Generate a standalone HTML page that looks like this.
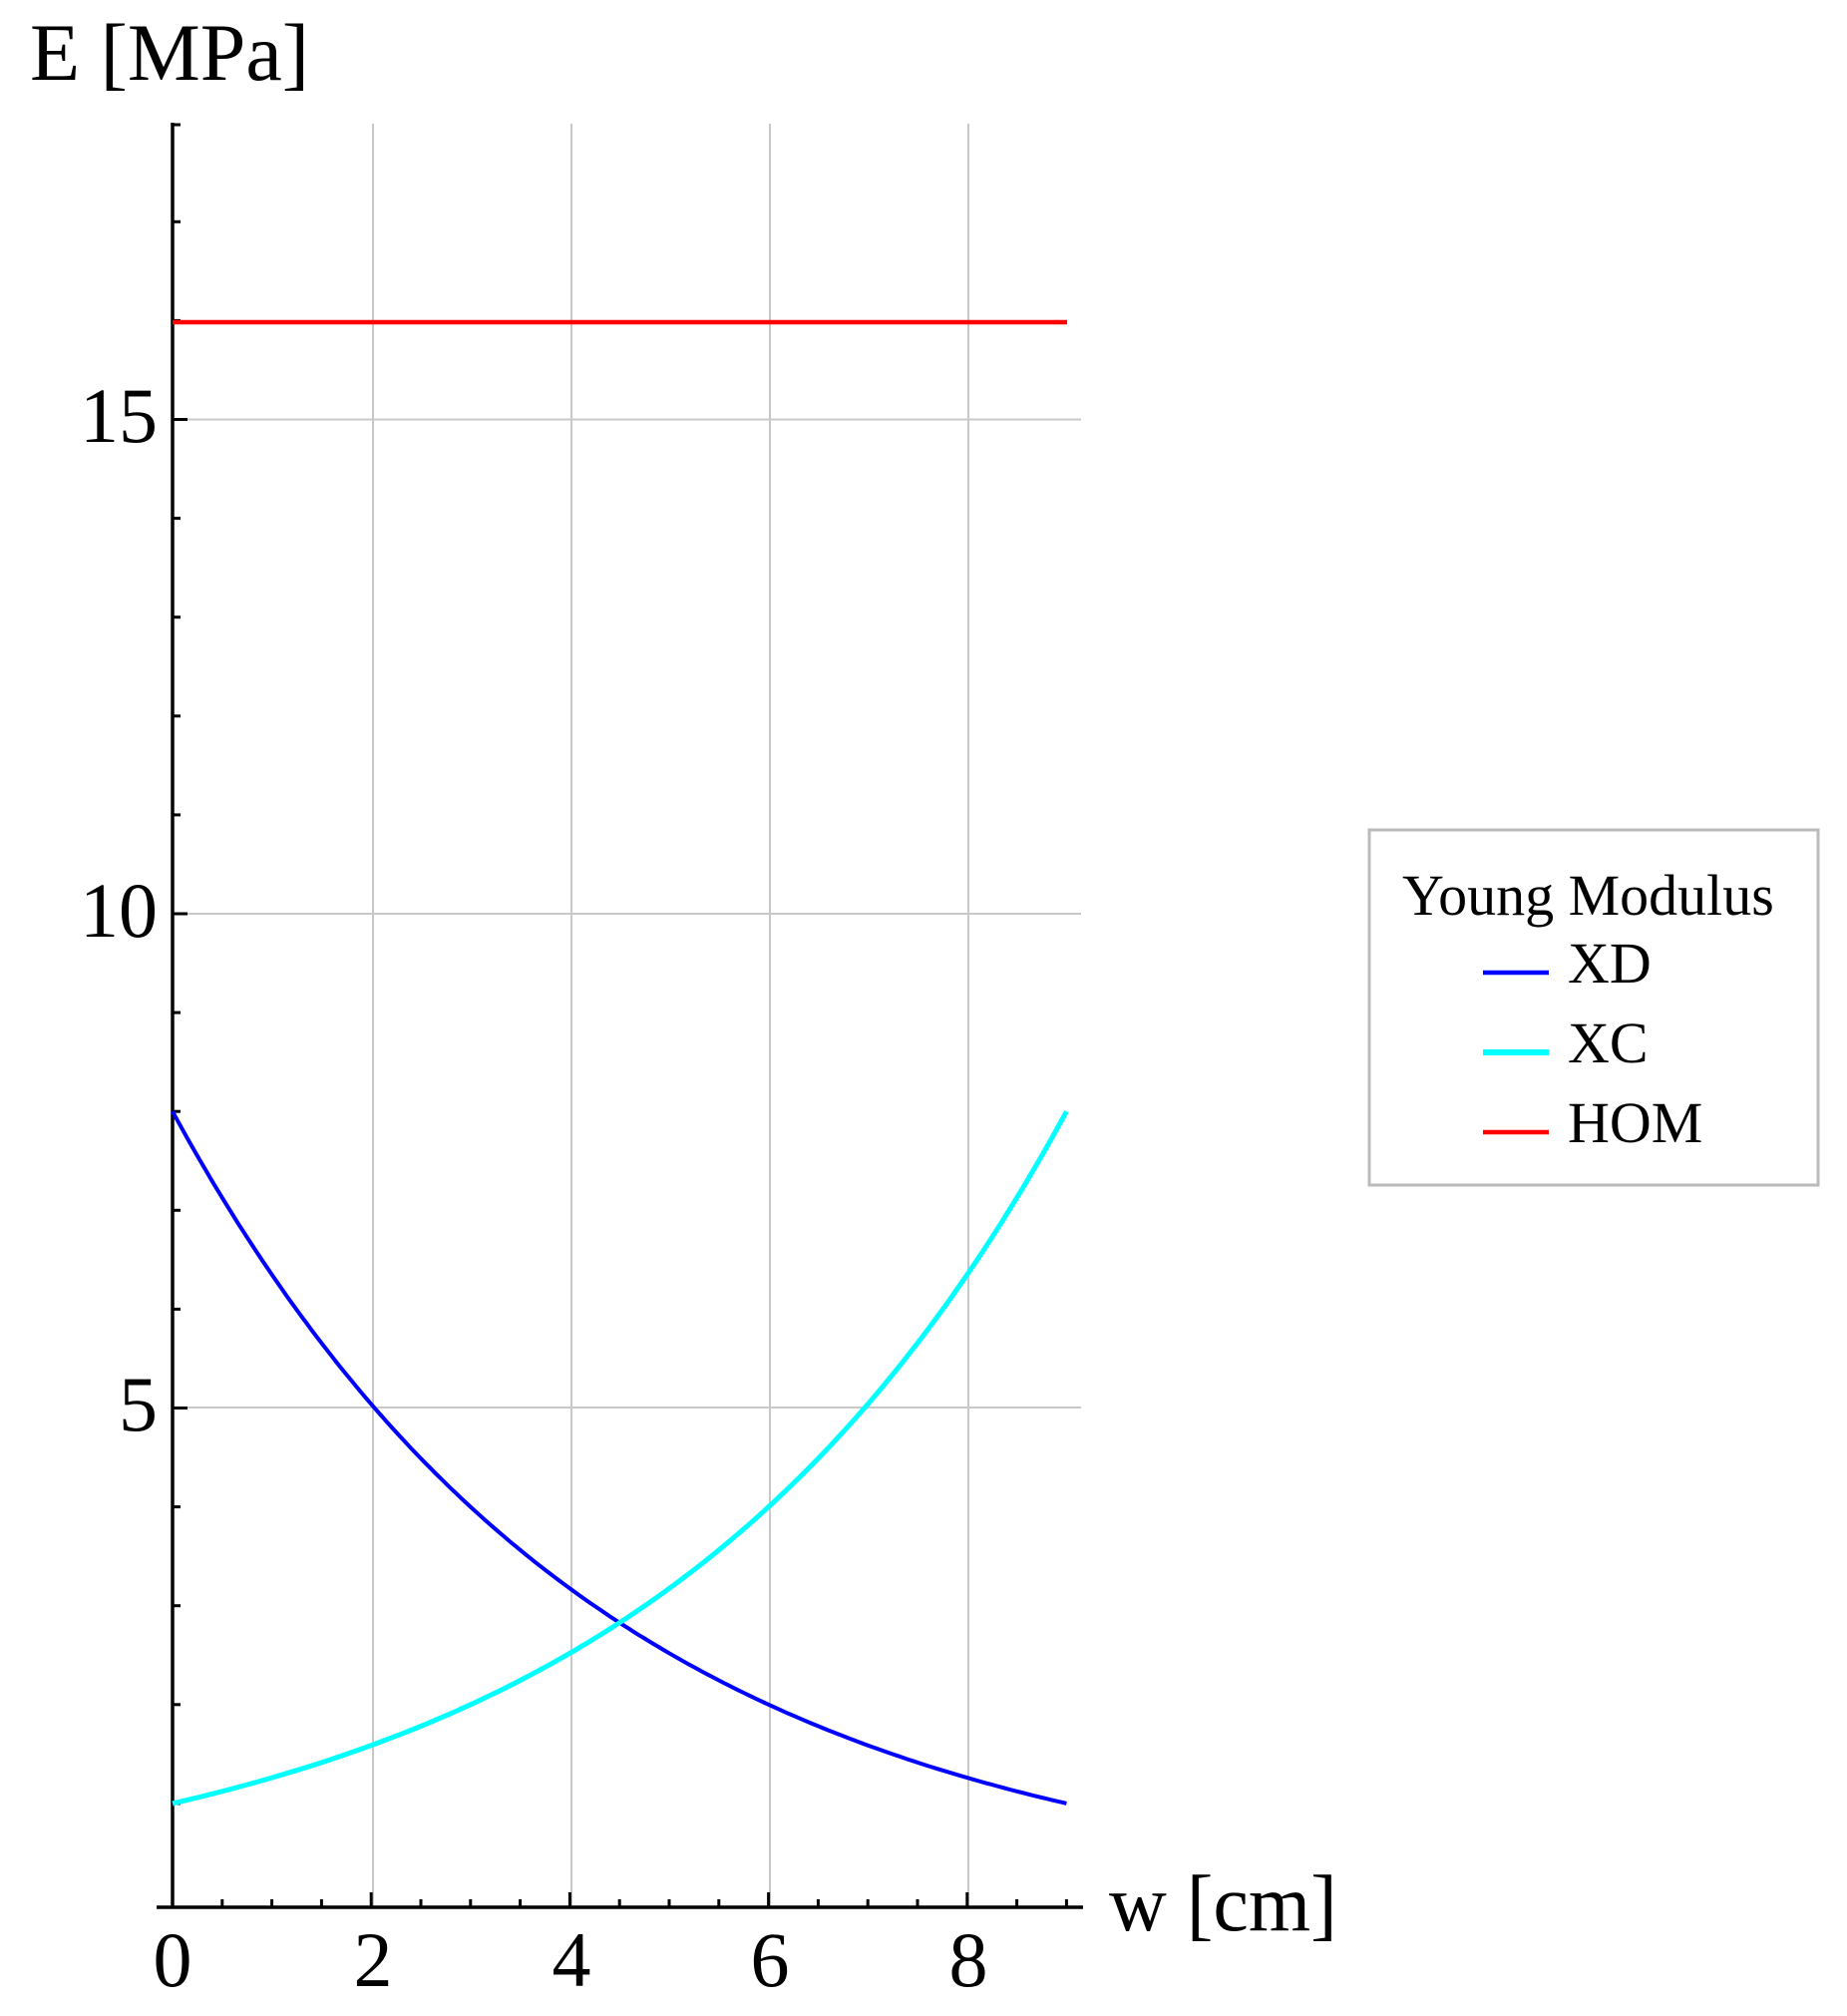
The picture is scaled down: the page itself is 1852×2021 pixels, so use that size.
<!DOCTYPE html>
<html><head><meta charset="utf-8"><style>
html,body{margin:0;padding:0;background:#fff;}
svg{display:block;}
text{font-family:"Liberation Serif",serif;fill:#000;}
</style></head><body>
<svg width="1852" height="2021" viewBox="0 0 1852 2021" xmlns="http://www.w3.org/2000/svg">
<g stroke="#c8c8c8" stroke-width="2">
<line x1="374" y1="124" x2="374" y2="1912"/>
<line x1="573" y1="124" x2="573" y2="1912"/>
<line x1="772" y1="124" x2="772" y2="1912"/>
<line x1="971" y1="124" x2="971" y2="1912"/>
<line x1="173" y1="420.5" x2="1084" y2="420.5"/>
<line x1="173" y1="916" x2="1084" y2="916"/>
<line x1="173" y1="1411" x2="1084" y2="1411"/>
</g>
<g stroke="#000" stroke-width="3.5">
<line x1="173" y1="123" x2="173" y2="1912"/>
<line x1="157" y1="1912" x2="1086" y2="1912"/>
</g>
<g id="yt" stroke="#000" stroke-width="3"></g>
<g id="xt" stroke="#000" stroke-width="3"></g>
<polyline id="hom" fill="none" stroke="#ff0000" stroke-width="4.5" points="173,323 1070,323"/>
<polyline id="xd" fill="none" stroke="#0000ff" stroke-width="4"/>
<polyline id="xc" fill="none" stroke="#00ffff" stroke-width="5"/>
<text x="30" y="80" font-size="82">E [MPa]</text>
<g font-size="78" text-anchor="end">
<text x="158" y="443">15</text>
<text x="158" y="939">10</text>
<text x="158" y="1434">5</text>
</g>
<g font-size="78" text-anchor="middle">
<text x="173" y="1991">0</text>
<text x="374" y="1991">2</text>
<text x="573" y="1991">4</text>
<text x="772" y="1991">6</text>
<text x="971" y="1991">8</text>
</g>
<text x="1112" y="1935" font-size="80">w [cm]</text>
<rect x="1373" y="832" width="450" height="356" fill="#fff" stroke="#bbb" stroke-width="3"/>
<text x="1406" y="917" font-size="58">Young Modulus</text>
<line x1="1487" y1="975" x2="1553" y2="975" stroke="#0000ff" stroke-width="4.5"/>
<line x1="1487" y1="1055" x2="1553" y2="1055" stroke="#00ffff" stroke-width="6"/>
<line x1="1487" y1="1135" x2="1553" y2="1135" stroke="#ff0000" stroke-width="4.5"/>
<g font-size="58">
<text x="1572" y="985">XD</text>
<text x="1572" y="1065">XC</text>
<text x="1572" y="1145">HOM</text>
</g>
<script>
(function(){
var ns="http://www.w3.org/2000/svg";
function X(v){return 173+v*99.6;}
function Y(v){return 1907-v*99.1;}
var yt=document.getElementById("yt");
for(var v=1;v<=18;v++){var l=document.createElementNS(ns,"line");var y=Y(v);if(v==18)y=125;var len=(v%5==0)?15:8;
l.setAttribute("x1",173);l.setAttribute("x2",173+len);l.setAttribute("y1",y);l.setAttribute("y2",y);yt.appendChild(l);}
var xt=document.getElementById("xt");
for(var i=0;i<=18;i++){var v=i/2;var l=document.createElementNS(ns,"line");var x=X(v);var len=(i%4==0)?15:8;
l.setAttribute("x1",x);l.setAttribute("x2",x);l.setAttribute("y1",1912);l.setAttribute("y2",1912-len);xt.appendChild(l);}
var a=[],b=[];
for(var i=0;i<=180;i++){var v=i*9/180;
a.push(X(v).toFixed(1)+","+Y(8*Math.pow(2,-v/3)).toFixed(1));
b.push(X(v).toFixed(1)+","+Y(Math.pow(2,v/3)).toFixed(1));}
document.getElementById("xd").setAttribute("points",a.join(" "));
document.getElementById("xc").setAttribute("points",b.join(" "));
})();
</script>
</svg>
</body></html>
